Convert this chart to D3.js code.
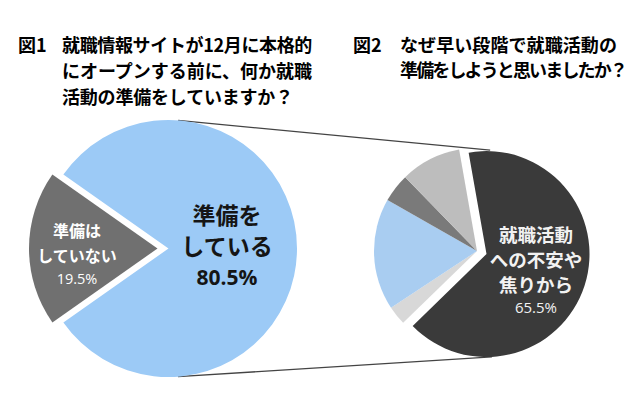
<!DOCTYPE html>
<html>
<head>
<meta charset="utf-8">
<script src="https://cdn.jsdelivr.net/npm/d3@7"></script>
<style>
  body { margin: 0; background: #fff; }
  text { font-family: "Noto Sans CJK JP", sans-serif; }
  .num { font-family: "Open Sans", "Noto Sans", sans-serif; }
</style>
</head>
<body>
<div id="chart"></div>
<script>
// data
var title1 = ["就職情報サイトが12月に本格的", "にオープンする前に、何か就職", "活動の準備をしていますか？"];
var title2 = ["なぜ早い段階で就職活動の", "準備をしようと思いましたか？"];

var pie1Labels = ["準備をしている", "準備はしていない"];
var pie1Values = [80.5, 19.5];
var pie1Colors = ["#9ccaf6", "#707070"];

var pie2Values = [65.5, 3.0, 17.5, 4.5, 9.5];
var pie2Colors = ["#3a3a3a", "#d8d8d8", "#a9cdf1", "#7a7a7a", "#bdbdbd"];

var width = 640, height = 398;

// line widths of the titles as set in the picture
var title1Width = [250, 250, 231];
var title2Width = [217, 226];

var svg = d3.select("#chart")
  .append("svg")
    .attr("width", width)
    .attr("height", height);

var rad = Math.PI / 180;

// squeeze a title line to its width with letter-spacing
function fit(sel, widths) {
  sel.each(function(d, i) {
    var n = d.length;
    var w = this.getComputedTextLength();
    d3.select(this).attr("letter-spacing", ((widths[i] - w) / n).toFixed(2));
  });
}

// titles
svg.append("text").attr("x", 18).attr("y", 52)
  .attr("font-size", 18).attr("font-weight", "bold").text("図1");
svg.selectAll("text.t1")
  .data(title1).enter().append("text")
    .attr("class", "t1")
    .attr("x", 62)
    .attr("y", function(d, i) { return 52 + i * 26; })
    .attr("font-size", 18).attr("font-weight", "bold")
    .text(function(d) { return d; })
    .call(fit, title1Width);

svg.append("text").attr("x", 353).attr("y", 52)
  .attr("font-size", 18).attr("font-weight", "bold").text("図2");
svg.selectAll("text.t2")
  .data(title2).enter().append("text")
    .attr("class", "t2")
    .attr("x", 400)
    .attr("y", function(d, i) { return 52 + i * 25; })
    .attr("font-size", 18).attr("font-weight", "bold")
    .text(function(d) { return d; })
    .call(fit, title2Width);

// pie 1
var c1 = {x: 168.5, y: 248.5, r: 128.5};
var pie1 = d3.pie().sort(null)
  .startAngle(-54.9 * rad).endAngle(305.1 * rad);
var arc1 = d3.arc().innerRadius(0).outerRadius(c1.r);
var explode1 = [0, 11];

// pie 2
var c2 = {x: 477, y: 251, r: 103};
var pie2 = d3.pie().sort(null)
  .startAngle(-10 * rad).endAngle(350 * rad);
var arc2 = d3.arc().innerRadius(0).outerRadius(c2.r);
var explode2 = [10, 0, 0, 0, 0];

var arcs2 = pie2(pie2Values);

// connector lines (left pie edge to the big slice of pie 2)
function pt(c, a, r, off) {
  return [c.x + off[0] + r * Math.sin(a * rad), c.y + off[1] - r * Math.cos(a * rad)];
}
var d0 = arcs2[0];
var mid0 = (d0.startAngle + d0.endAngle) / 2;
var off0 = [explode2[0] * Math.sin(mid0), -explode2[0] * Math.cos(mid0)];
var lines = [
  [pt(c1, 4.3, c1.r, [0, 0]), pt(c2, 2, c2.r + 1, off0)],
  [pt(c1, 175.8, c1.r, [0, 0]), pt(c2, 177, c2.r, off0)]
];
svg.selectAll("line.conn")
  .data(lines).enter().append("line")
    .attr("class", "conn")
    .attr("x1", function(d) { return d[0][0]; })
    .attr("y1", function(d) { return d[0][1]; })
    .attr("x2", function(d) { return d[1][0]; })
    .attr("y2", function(d) { return d[1][1]; })
    .attr("stroke", "#444")
    .attr("stroke-width", 1.3);

var g1 = svg.append("g").attr("transform", "translate(" + c1.x + "," + c1.y + ")");
g1.selectAll("path")
  .data(pie1(pie1Values)).enter().append("path")
    .attr("d", arc1)
    .attr("fill", function(d, i) { return pie1Colors[i]; })
    .attr("transform", function(d, i) {
      var m = (d.startAngle + d.endAngle) / 2;
      return "translate(" + explode1[i] * Math.sin(m) + "," + (-explode1[i] * Math.cos(m)) + ")";
    });

var g2 = svg.append("g").attr("transform", "translate(" + c2.x + "," + c2.y + ")");
g2.selectAll("path")
  .data(arcs2).enter().append("path")
    .attr("d", arc2)
    .attr("fill", function(d, i) { return pie2Colors[i]; })
    .attr("transform", function(d, i) {
      var m = (d.startAngle + d.endAngle) / 2;
      return "translate(" + explode2[i] * Math.sin(m) + "," + (-explode2[i] * Math.cos(m)) + ")";
    });

// labels
function label(lines, x, y0, step, size, color, pct, pctY, pctSize, pctBold) {
  lines.forEach(function(t, i) {
    svg.append("text")
      .attr("x", x).attr("y", y0 + i * step)
      .attr("text-anchor", "middle")
      .attr("dominant-baseline", "central")
      .attr("font-size", size).attr("font-weight", "bold")
      .attr("fill", color)
      .text(t);
  });
  svg.append("text")
    .attr("class", "num")
    .attr("x", x).attr("y", pctY)
    .attr("text-anchor", "middle")
    .attr("dominant-baseline", "central")
    .attr("font-size", pctSize)
    .attr("font-weight", pctBold ? "bold" : "normal")
    .attr("fill", color)
    .text(pct);
}

label(["準備を", "している"], 227, 214, 31, 23, "#151515", pie1Values[0] + "%", 277, 21, true);
label(["準備は", "していない"], 77, 230, 25, 16, "#ffffff", pie1Values[1] + "%", 278, 14.5, false);
label(["就職活動", "への不安や", "焦りから"], 536, 234, 25, 18.5, "#f2f2f2", pie2Values[0] + "%", 307, 15, false);
</script>
</body>
</html>
